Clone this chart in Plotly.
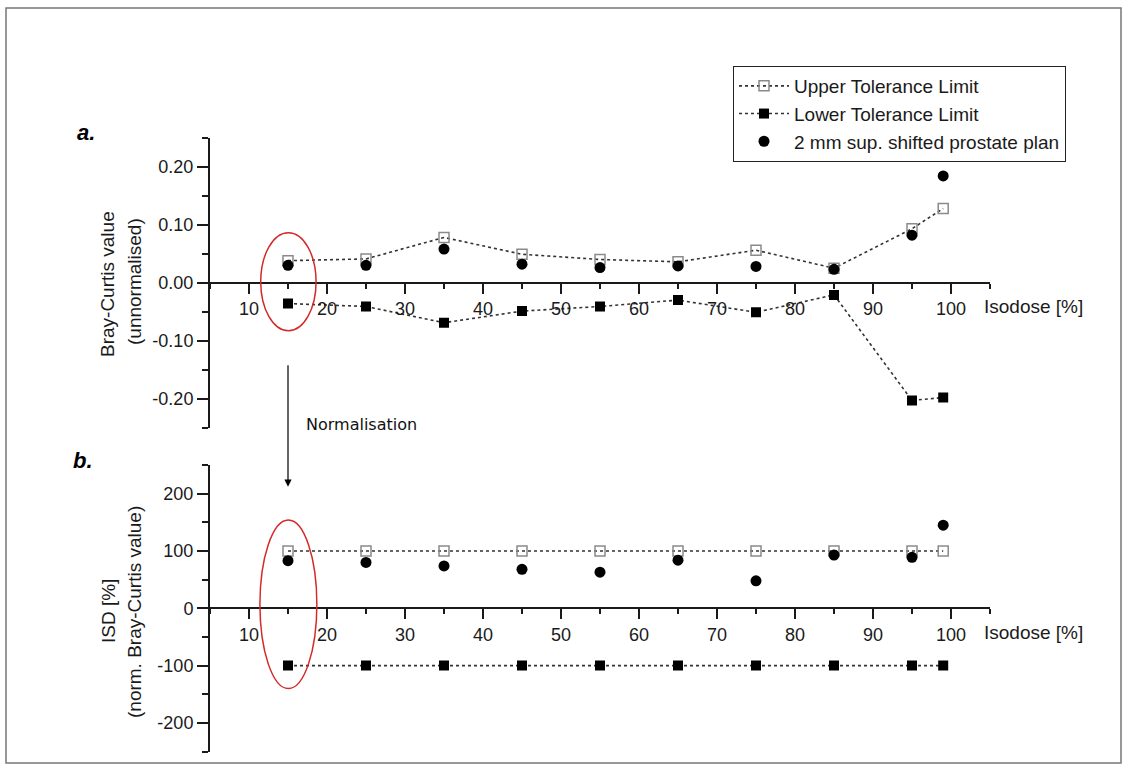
import plotly.graph_objects as go

# Isodose levels (%)
isodose = [15, 25, 35, 45, 55, 65, 75, 85, 95, 99]

# a. unnormalised Bray-Curtis values
upper_raw = [0.038, 0.041, 0.078, 0.049, 0.040, 0.036, 0.056, 0.025, 0.093, 0.128]
lower_raw = [-0.036, -0.041, -0.069, -0.049, -0.041, -0.030, -0.051, -0.021, -0.203, -0.198]
shifted_raw = [0.030, 0.030, 0.058, 0.032, 0.026, 0.029, 0.028, 0.023, 0.082, 0.184]

# b. normalised values, ISD [%]
upper_norm = [100, 100, 100, 100, 100, 100, 100, 100, 100, 100]
lower_norm = [-100, -100, -100, -100, -100, -100, -100, -100, -100, -100]
shifted_norm = [83, 80, 74, 68, 63, 84, 48, 93, 89, 145]

x_ticks = [10, 20, 30, 40, 50, 60, 70, 80, 90, 100]
top_ticks = [-0.20, -0.10, 0.00, 0.10, 0.20]
top_ticklabels = ["-0.20", "-0.10", "0.00", "0.10", "0.20"]
bot_ticks = [-200, -100, 0, 100, 200]

W, H = 1129, 773
FONT = "Liberation Sans, Arial, sans-serif"
INK = "#1a1a1a"

x_dom = [210 / W, 990 / W]
top_dom = [1 - 427.7 / H, 1 - 137.7 / H]
bot_dom = [1 - 751.6 / H, 1 - 465.0 / H]

line_style = dict(color="#333333", dash="dot", width=1.6)
open_sq = dict(symbol="square-open", color="#8a8a8a", size=10, line=dict(width=1.5))
fill_sq = dict(symbol="square", color="#000000", size=10)
dot = dict(symbol="circle", color="#000000", size=11)

fig = go.Figure()

for xa, ya, up, lo, sh, show in [
    ("x", "y", upper_raw, lower_raw, shifted_raw, True),
    ("x2", "y2", upper_norm, lower_norm, shifted_norm, False),
]:
    fig.add_trace(go.Scatter(x=isodose, y=up, mode="lines+markers", name="Upper Tolerance Limit",
                             line=line_style, marker=open_sq, xaxis=xa, yaxis=ya, showlegend=show))
    fig.add_trace(go.Scatter(x=isodose, y=lo, mode="lines+markers", name="Lower Tolerance Limit",
                             line=line_style, marker=fill_sq, xaxis=xa, yaxis=ya, showlegend=show))
    fig.add_trace(go.Scatter(x=isodose, y=sh, mode="markers", name="2 mm sup. shifted prostate plan",
                             marker=dot, xaxis=xa, yaxis=ya, showlegend=show))


def x_axis(dom_y):
    return dict(
        domain=x_dom, range=[5, 105], anchor="free", position=(dom_y[0] + dom_y[1]) / 2,
        showline=True, linecolor=INK, linewidth=2, showgrid=False, zeroline=False,
        tickmode="array", tickvals=x_ticks, ticks="outside", ticklen=10, tickwidth=1.5,
        tickcolor=INK, tickfont=dict(family=FONT, size=18, color=INK),
        minor=dict(ticks="outside", ticklen=5, tickwidth=1.5, tickcolor=INK,
                   tickmode="linear", tick0=5, dtick=10),
    )


def y_axis(dom, rng, ticks, labels, minor_dtick, anchor):
    return dict(
        domain=dom, range=rng, anchor=anchor, showline=True, linecolor=INK, linewidth=2,
        showgrid=False, zeroline=False, tickmode="array", tickvals=ticks, ticktext=labels,
        ticks="outside", ticklen=11, tickwidth=1.5, tickcolor=INK,
        tickfont=dict(family=FONT, size=18, color=INK),
        minor=dict(ticks="outside", ticklen=6, tickwidth=1.5, tickcolor=INK,
                   tickmode="linear", tick0=0, dtick=minor_dtick),
    )


fig.update_layout(
    width=W, height=H, margin=dict(l=0, r=0, t=0, b=0),
    paper_bgcolor="white", plot_bgcolor="white",
    xaxis=x_axis(top_dom),
    yaxis=y_axis(top_dom, [-0.25, 0.25], top_ticks, top_ticklabels, 0.05, "x"),
    xaxis2=x_axis(bot_dom),
    yaxis2=y_axis(bot_dom, [-250, 250], bot_ticks, [str(v) for v in bot_ticks], 50, "x2"),
    legend=dict(x=733 / W, y=1 - 66 / H, xanchor="left", yanchor="top",
                bordercolor="#222222", borderwidth=1, bgcolor="white", itemwidth=50,
                font=dict(family=FONT, size=19, color=INK), tracegroupgap=0),
    showlegend=True,
)

# Two-line vertical axis titles
title_font = dict(family=FONT, size=19, color=INK)
for text, xpx, ypx in [
    ("Bray-Curtis value", 107, 284),
    ("(unnormalised)", 134, 282),
    ("ISD [%]", 108, 611),
    ("(norm. Bray-Curtis value)", 134, 612),
]:
    fig.add_annotation(x=xpx / W, y=1 - ypx / H, xref="paper", yref="paper", text=text,
                       textangle=-90, showarrow=False, xanchor="center", yanchor="middle",
                       font=title_font)

# Isodose axis labels at the right end of each x axis
for xr, yr in [("x", "y"), ("x2", "y2")]:
    fig.add_annotation(x=104.0, y=0, xref=xr, yref=yr, text="Isodose [%]", showarrow=False,
                       xanchor="left", yanchor="middle", yshift=-24,
                       font=dict(family=FONT, size=19, color=INK))

# Panel letters
fig.add_annotation(x=75 / W, y=1 - 132 / H, xref="paper", yref="paper", text="<b><i>a.</i></b>",
                   showarrow=False, xanchor="left", yanchor="middle",
                   font=dict(family=FONT, size=22, color="#000"))
fig.add_annotation(x=71 / W, y=1 - 460 / H, xref="paper", yref="paper", text="<b><i>b.</i></b>",
                   showarrow=False, xanchor="left", yanchor="middle",
                   font=dict(family=FONT, size=22, color="#000"))

# Red ellipses highlighting the 15 % isodose
fig.add_shape(type="circle", xref="x", yref="y", x0=11.5, x1=18.6, y0=-0.083, y1=0.086,
              line=dict(color="#d42a2a", width=1.5))
fig.add_shape(type="circle", xref="x2", yref="y2", x0=11.4, x1=18.7, y0=-140, y1=154,
              line=dict(color="#d42a2a", width=1.5))

# Normalisation arrow from panel a to panel b
fig.add_annotation(x=15, y=212, xref="x2", yref="y2", ax=0, ay=-123, axref="pixel", ayref="pixel",
                   text="", showarrow=True, arrowhead=2, arrowsize=1.2, arrowwidth=1.2,
                   arrowcolor="#000")
fig.add_annotation(x=304 / W, y=1 - 424 / H, xref="paper", yref="paper", text="Normalisation",
                   showarrow=False, xanchor="left", yanchor="middle",
                   font=dict(family="Comic Sans MS, DejaVu Sans, sans-serif", size=16, color="#111"))

# Outer frame
fig.add_shape(type="rect", xref="paper", yref="paper", x0=6 / W, x1=1121 / W,
              y0=1 - 763 / H, y1=1 - 8 / H, line=dict(color="#777777", width=1.5))

fig.write_html("out.html")
